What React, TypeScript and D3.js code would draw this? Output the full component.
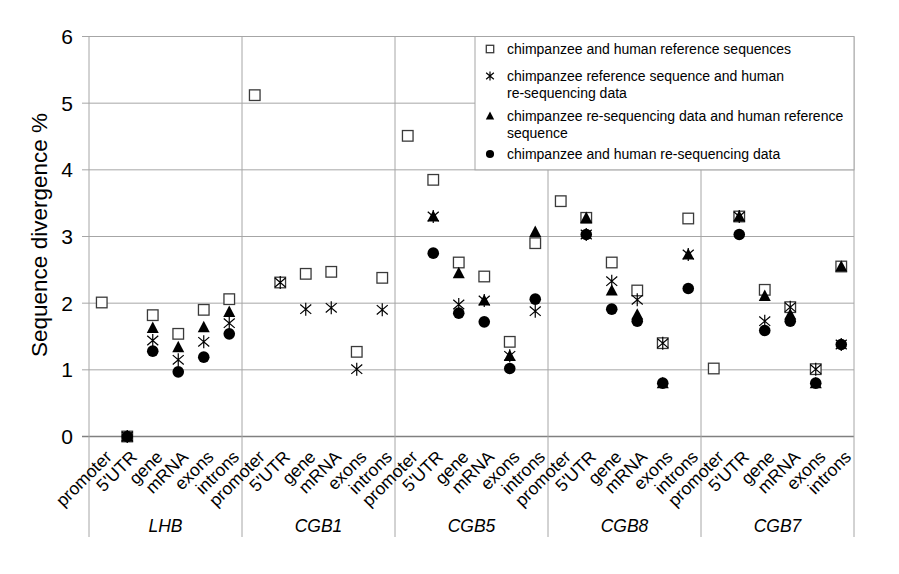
import React from "react";
import * as d3 from "d3";

const genes = ["LHB", "CGB1", "CGB5", "CGB8", "CGB7"];
const regions = ["promoter", "5'UTR", "gene", "mRNA", "exons", "introns"];
const yTicks = [0, 1, 2, 3, 4, 5, 6];

// series values, 30 per series (5 genes x 6 regions), null = no value
const refRef = [
  2.01, 0, 1.82, 1.54, 1.9, 2.06,
  5.12, 2.31, 2.44, 2.47, 1.27, 2.38,
  4.51, 3.85, 2.61, 2.4, 1.42, 2.9,
  3.53, 3.28, 2.61, 2.19, 1.4, 3.27,
  1.02, 3.3, 2.2, 1.94, 1.01, 2.55,
];
const refReseq = [
  null, 0, 1.44, 1.15, 1.42, 1.7,
  null, 2.31, 1.91, 1.93, 1.01, 1.9,
  null, 3.3, 1.98, 2.04, 1.21, 1.88,
  null, 3.03, 2.33, 2.05, 1.4, 2.73,
  null, 3.3, 1.73, 1.94, 1.01, 1.38,
];
const reseqRef = [
  null, 0, 1.63, 1.34, 1.64, 1.87,
  null, null, null, null, null, null,
  null, 3.3, 2.45, 2.04, 1.21, 3.07,
  null, 3.28, 2.19, 1.83, 0.8, 2.73,
  null, 3.3, 2.11, 1.83, 0.8, 2.55,
];
const reseqReseq = [
  null, 0, 1.28, 0.97, 1.19, 1.54,
  null, null, null, null, null, null,
  null, 2.75, 1.85, 1.72, 1.02, 2.06,
  null, 3.03, 1.91, 1.73, 0.8, 2.22,
  null, 3.03, 1.59, 1.73, 0.8, 1.38,
];

const legendLabels = [
  ["chimpanzee and human reference sequences"],
  ["chimpanzee reference sequence and human", "re-sequencing data"],
  ["chimpanzee re-sequencing data and human reference", "sequence"],
  ["chimpanzee and human re-sequencing data"],
];

const FONT = "'Liberation Sans', Arial, sans-serif";

const W = 899;
const H = 574;
const left = 89;
const right = 854;
const top = 36.5;
const bottom = 436.5;
const sepBottom = 537;

type Kind = "square" | "star" | "triangle" | "circle";

function Marker({ kind, x, y, s = 1 }: { kind: Kind; x: number; y: number; s?: number }) {
  if (kind === "square") {
    const h = 5.3 * s;
    return <rect x={x - h} y={y - h} width={2 * h} height={2 * h} fill="#fff" stroke="#3a3a3a" strokeWidth={1.3} />;
  }
  if (kind === "star") {
    const h = 5.5 * s;
    const v = 6.5 * s;
    return (
      <path
        d={`M${x - h},${y - h * 0.85}L${x + h},${y + h * 0.85}M${x - h},${y + h * 0.85}L${x + h},${y - h * 0.85}M${x},${y - v}L${x},${y + v}`}
        stroke="#000"
        strokeWidth={1.2}
        fill="none"
      />
    );
  }
  if (kind === "triangle") {
    const h = 6 * s;
    return <path d={`M${x},${y - h * 1.05}L${x + h},${y + h * 0.85}L${x - h},${y + h * 0.85}Z`} fill="#000" />;
  }
  return <circle cx={x} cy={y} r={5.8 * s} fill="#000" />;
}

export default function App() {
  const cats = genes.flatMap((g) => regions.map((r) => `${g}|${r}`));
  const x = d3.scaleBand<string>().domain(cats).range([left, right]).paddingInner(0).paddingOuter(0);
  const y = d3.scaleLinear().domain([0, 6]).range([bottom, top]);
  const bw = x.bandwidth();

  const series: { kind: Kind; vals: (number | null)[] }[] = [
    { kind: "square", vals: refRef },
    { kind: "star", vals: refReseq },
    { kind: "triangle", vals: reseqRef },
    { kind: "circle", vals: reseqReseq },
  ];

  const gridColor = "#a6a6a6";

  // legend geometry
  const lgX = 475;
  const lgMarkX = 490;
  const lgTextX = 507;
  const lgBase = [[54], [81, 98], [121, 138], [159]];
  const lgMarkY = [49, 76, 116, 154];
  const lgKinds: Kind[] = ["square", "star", "triangle", "circle"];

  return (
    <div style={{ position: "absolute", left: 0, top: 0 }}>
      <svg width={W} height={H} style={{ display: "block", background: "#fff" }} fontFamily={FONT}>
        <rect x={0} y={0} width={W} height={H} fill="#fff" />
        {/* horizontal grid */}
        {yTicks.map((t) => (
          <line
            key={`g${t}`}
            x1={left - 7}
            x2={right}
            y1={y(t)}
            y2={y(t)}
            stroke={t === 0 ? "#808080" : gridColor}
            strokeWidth={t === 0 ? 1.5 : 1}
          />
        ))}
        {/* vertical separators */}
        {d3.range(genes.length + 1).map((i) => {
          const xx = i < genes.length ? (x(`${genes[i]}|promoter`) as number) : right;
          return <line key={`v${i}`} x1={xx} x2={xx} y1={top} y2={sepBottom} stroke={gridColor} strokeWidth={1} />;
        })}
        {/* y tick labels */}
        {yTicks.map((t) => (
          <text key={`yl${t}`} x={73} y={y(t)} dy="0.36em" textAnchor="end" fontSize={21} fill="#000">
            {t}
          </text>
        ))}
        <text transform={`translate(47,235) rotate(-90)`} textAnchor="middle" fontSize={22.5} fill="#000">
          Sequence divergence %
        </text>
        {/* x category labels */}
        {cats.map((c) => {
          const cx = (x(c) as number) + bw / 2;
          const label = c.split("|")[1];
          return (
            <text
              key={`xl${c}`}
              transform={`translate(${cx + 11},458) rotate(-45)`}
              textAnchor="end"
              fontSize={17.5}
              fill="#000"
            >
              {label}
            </text>
          );
        })}
        {/* gene labels */}
        {genes.map((g) => {
          const x0 = x(`${g}|promoter`) as number;
          return (
            <text key={`gl${g}`} x={x0 + bw * 3} y={532} textAnchor="middle" fontSize={17.5} fontStyle="italic" fill="#000">
              {g}
            </text>
          );
        })}
        {/* markers */}
        {series.map((s) =>
          s.vals.map((v, i) =>
            v === null ? null : (
              <Marker key={`${s.kind}${i}`} kind={s.kind} x={(x(cats[i]) as number) + bw / 2} y={y(v)} />
            )
          )
        )}
        {/* legend */}
        <rect x={lgX} y={top} width={right - lgX} height={y(4) - top} fill="#fff" stroke={gridColor} strokeWidth={1} />
        {legendLabels.map((lines, i) => (
          <g key={`lg${i}`}>
            <Marker kind={lgKinds[i]} x={lgMarkX} y={lgMarkY[i]} s={0.7} />
            {lines.map((ln, j) => (
              <text key={j} x={lgTextX} y={lgBase[i][j]} fontSize={14} fill="#000">
                {ln}
              </text>
            ))}
          </g>
        ))}
      </svg>
    </div>
  );
}
